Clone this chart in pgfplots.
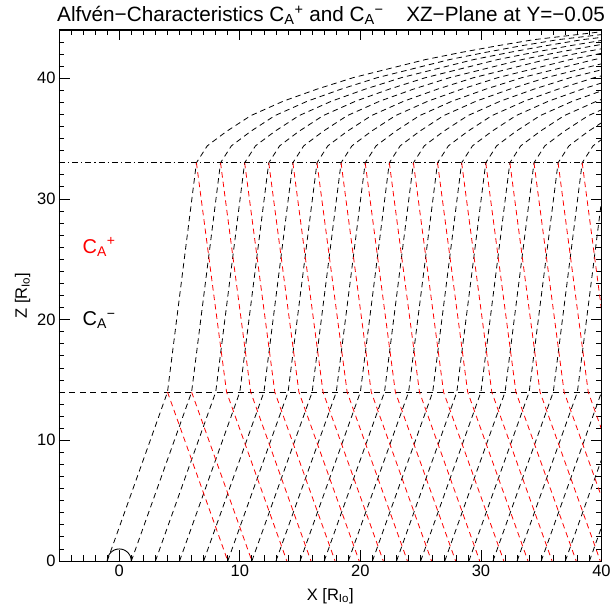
\documentclass[border=0pt]{standalone}
\usepackage{fontspec}
\setmainfont{Liberation Sans}
\usepackage{pgfplots}
\pgfplotsset{compat=1.18}

\newcommand{\tickfont}{\fontsize{16.5bp}{19bp}\selectfont}
\newcommand{\labfont}{\fontsize{20bp}{24bp}\selectfont}
\newcommand{\titlefont}{\fontsize{20.7bp}{24bp}\selectfont}

\tikzset{
  cminus/.style={black, line width=0.8bp, dash pattern=on 5.5bp off 4bp},
  cplus/.style={red, line width=0.8bp, dash pattern=on 5.5bp off 4bp},
}

\begin{document}
\begin{tikzpicture}
\begin{axis}[
  scale only axis,
  width=542.5bp, height=531bp,
  xmin=-5, xmax=40, ymin=0, ymax=44,
  xtick={0,10,20,30,40}, ytick={0,10,20,30,40},
  minor xtick={-4,-3,...,39}, minor ytick={1,2,...,43},
  tick align=inside,
  major tick length=10.5bp, minor tick length=5.5bp,
  tick style={black, line width=0.8bp},
  tick label style={font=\tickfont},
  xlabel={X [R\textsubscript{Io}]},
  ylabel={Z [R\textsubscript{Io}]},
  every axis x label/.style={at={(axis description cs:0.5,0)}, anchor=base, yshift=-39bp, font=\tickfont},
  every axis y label/.style={at={(axis description cs:-0.059,0.5)}, anchor=base, rotate=90, font=\tickfont},
]
\pgfkeys{/pgf/number format/assume math mode=true}

% boundaries of the layers
\addplot[black, line width=0.8bp, dash pattern=on 6bp off 4.5bp] coordinates {(-5,14) (40,14)};
\addplot[black, line width=0.8bp, dash pattern=on 6bp off 3bp on 1.2bp off 3bp] coordinates {(-5,33) (40,33)};

% Io
\addplot[black, line width=0.9bp, smooth] coordinates {(1,0) (0.924,0.383) (0.707,0.707) (0.383,0.924) (0,1) (-0.383,0.924) (-0.707,0.707) (-0.924,0.383) (-1,0)};

% C_A^- characteristics
\addplot[cminus] coordinates {(-1,0)(4,14)(6.4,33)(7.3,34.4)(8.9,35.6)(10.9,36.9)(13.6,38.1)(16.4,39.1)(19.4,40.05)(22.4,40.8)(25.4,41.55)(28.4,42.15)(31.4,42.7)(34.4,43.2)(37.4,43.55)(40.4,43.9)};
\addplot[cminus] coordinates {(1,0)(6,14)(8.4,33)(9.3,34.4)(10.9,35.6)(12.9,36.9)(15.6,38.1)(18.4,39.1)(21.4,40.05)(24.4,40.8)(27.4,41.55)(30.4,42.15)(33.4,42.7)(36.4,43.2)(39.4,43.55)(42.4,43.9)};
\addplot[cminus] coordinates {(3,0)(8,14)(10.4,33)(11.3,34.4)(12.9,35.6)(14.9,36.9)(17.6,38.1)(20.4,39.1)(23.4,40.05)(26.4,40.8)(29.4,41.55)(32.4,42.15)(35.4,42.7)(38.4,43.2)(41.4,43.55)};
\addplot[cminus] coordinates {(5,0)(10,14)(12.4,33)(13.3,34.4)(14.9,35.6)(16.9,36.9)(19.6,38.1)(22.4,39.1)(25.4,40.05)(28.4,40.8)(31.4,41.55)(34.4,42.15)(37.4,42.7)(40.4,43.2)};
\addplot[cminus] coordinates {(7,0)(12,14)(14.4,33)(15.3,34.4)(16.9,35.6)(18.9,36.9)(21.6,38.1)(24.4,39.1)(27.4,40.05)(30.4,40.8)(33.4,41.55)(36.4,42.15)(39.4,42.7)(42.4,43.2)};
\addplot[cminus] coordinates {(9,0)(14,14)(16.4,33)(17.3,34.4)(18.9,35.6)(20.9,36.9)(23.6,38.1)(26.4,39.1)(29.4,40.05)(32.4,40.8)(35.4,41.55)(38.4,42.15)(41.4,42.7)};
\addplot[cminus] coordinates {(11,0)(16,14)(18.4,33)(19.3,34.4)(20.9,35.6)(22.9,36.9)(25.6,38.1)(28.4,39.1)(31.4,40.05)(34.4,40.8)(37.4,41.55)(40.4,42.15)};
\addplot[cminus] coordinates {(13,0)(18,14)(20.4,33)(21.3,34.4)(22.9,35.6)(24.9,36.9)(27.6,38.1)(30.4,39.1)(33.4,40.05)(36.4,40.8)(39.4,41.55)(42.4,42.15)};
\addplot[cminus] coordinates {(15,0)(20,14)(22.4,33)(23.3,34.4)(24.9,35.6)(26.9,36.9)(29.6,38.1)(32.4,39.1)(35.4,40.05)(38.4,40.8)(41.4,41.55)};
\addplot[cminus] coordinates {(17,0)(22,14)(24.4,33)(25.3,34.4)(26.9,35.6)(28.9,36.9)(31.6,38.1)(34.4,39.1)(37.4,40.05)(40.4,40.8)};
\addplot[cminus] coordinates {(19,0)(24,14)(26.4,33)(27.3,34.4)(28.9,35.6)(30.9,36.9)(33.6,38.1)(36.4,39.1)(39.4,40.05)(42.4,40.8)};
\addplot[cminus] coordinates {(21,0)(26,14)(28.4,33)(29.3,34.4)(30.9,35.6)(32.9,36.9)(35.6,38.1)(38.4,39.1)(41.4,40.05)};
\addplot[cminus] coordinates {(23,0)(28,14)(30.4,33)(31.3,34.4)(32.9,35.6)(34.9,36.9)(37.6,38.1)(40.4,39.1)};
\addplot[cminus] coordinates {(25,0)(30,14)(32.4,33)(33.3,34.4)(34.9,35.6)(36.9,36.9)(39.6,38.1)(42.4,39.1)};
\addplot[cminus] coordinates {(27,0)(32,14)(34.4,33)(35.3,34.4)(36.9,35.6)(38.9,36.9)(41.6,38.1)};
\addplot[cminus] coordinates {(29,0)(34,14)(36.4,33)(37.3,34.4)(38.9,35.6)(40.9,36.9)};
\addplot[cminus] coordinates {(31,0)(36,14)(38.4,33)(39.3,34.4)(40.9,35.6)};
\addplot[cminus] coordinates {(33,0)(38,14)(40.4,33)};
\addplot[cminus] coordinates {(35,0)(40,14)(42.4,33)};
\addplot[cminus] coordinates {(37,0)(42,14)};
\addplot[cminus] coordinates {(39,0)(44,14)};

% C_A^+ characteristics
\addplot[cplus] coordinates {(4,14)(9,0)};
\addplot[cplus] coordinates {(6,14)(11,0)};
\addplot[cplus] coordinates {(6.4,33)(8.9,14)(13.9,0)};
\addplot[cplus] coordinates {(8.4,33)(10.9,14)(15.9,0)};
\addplot[cplus] coordinates {(10.4,33)(12.9,14)(17.9,0)};
\addplot[cplus] coordinates {(12.4,33)(14.9,14)(19.9,0)};
\addplot[cplus] coordinates {(14.4,33)(16.9,14)(21.9,0)};
\addplot[cplus] coordinates {(16.4,33)(18.9,14)(23.9,0)};
\addplot[cplus] coordinates {(18.4,33)(20.9,14)(25.9,0)};
\addplot[cplus] coordinates {(20.4,33)(22.9,14)(27.9,0)};
\addplot[cplus] coordinates {(22.4,33)(24.9,14)(29.9,0)};
\addplot[cplus] coordinates {(24.4,33)(26.9,14)(31.9,0)};
\addplot[cplus] coordinates {(26.4,33)(28.9,14)(33.9,0)};
\addplot[cplus] coordinates {(28.4,33)(30.9,14)(35.9,0)};
\addplot[cplus] coordinates {(30.4,33)(32.9,14)(37.9,0)};
\addplot[cplus] coordinates {(32.4,33)(34.9,14)(39.9,0)};
\addplot[cplus] coordinates {(34.4,33)(36.9,14)(41.9,0)};
\addplot[cplus] coordinates {(36.4,33)(38.9,14)(43.9,0)};
\addplot[cplus] coordinates {(38.4,33)(40.9,14)};

\node[anchor=base west, red, font=\labfont, inner sep=0pt] at (axis cs:-3.05,25.5) {C\textsubscript{A}\textsuperscript{+}};
\node[anchor=base west, black, font=\labfont, inner sep=0pt] at (axis cs:-3.05,19.5) {C\textsubscript{A}\textsuperscript{−}};
\end{axis}

% heavier frame round the plot area
\draw[line width=1bp] (current axis.south west) rectangle (current axis.north east);

\node[anchor=base west, font=\titlefont, inner sep=0pt, xshift=-2bp, yshift=8.3bp] at (current axis.north west)
  {Alfvén−Characteristics C\textsubscript{A}\textsuperscript{+} and C\textsubscript{A}\textsuperscript{−}};
\node[anchor=base east, font=\titlefont, inner sep=0pt, xshift=3.5bp, yshift=8.3bp] at (current axis.north east)
  {XZ−Plane at Y=−0.05};

\pgfresetboundingbox
\path[use as bounding box] (-59bp,-43bp) rectangle (552bp,561bp);
\end{tikzpicture}
\end{document}
